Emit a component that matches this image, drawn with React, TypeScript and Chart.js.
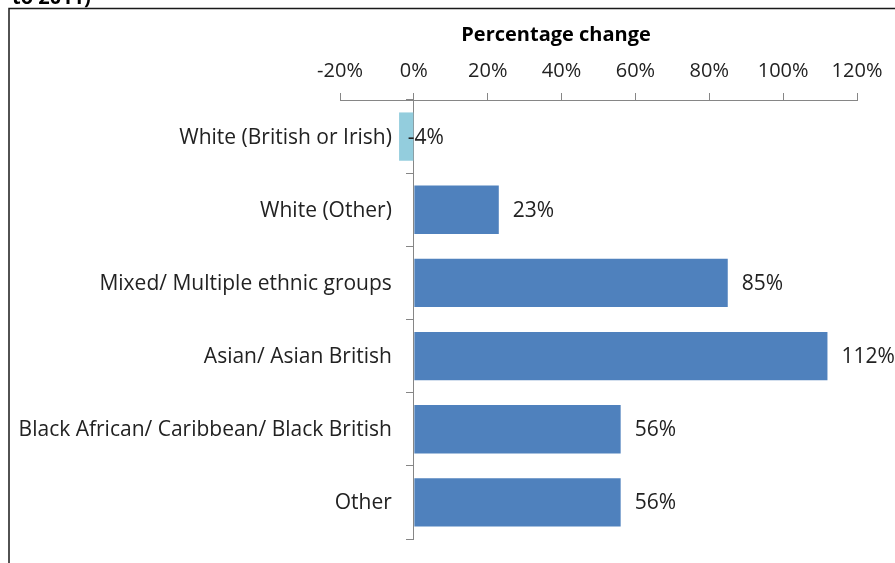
import React, { useEffect, useRef } from "react";
import { Chart, registerables } from "chart.js";

Chart.register(...registerables);

const categories = [
  "White (British or Irish)",
  "White (Other)",
  "Mixed/ Multiple ethnic groups",
  "Asian/ Asian British",
  "Black African/ Caribbean/ Black British",
  "Other",
];
const values = [-4, 23, 85, 112, 56, 56];
const barColors = ["#93CDDD", "#4F81BD", "#4F81BD", "#4F81BD", "#4F81BD", "#4F81BD"];
const axisTitle = "Percentage change";
const headerFragment = "to 2011)";

const FONT = "'Open Sans', 'Liberation Sans', sans-serif";
const AXIS_GRAY = "#868686";
const TEXT = "#222";

const framePlugin = {
  id: "frame",
  beforeDraw(chart: any) {
    const ctx = chart.ctx;
    ctx.save();
    ctx.fillStyle = "#fff";
    ctx.fillRect(0, 0, chart.width, chart.height);
    ctx.strokeStyle = "#1a1a1a";
    ctx.lineWidth = 1.5;
    ctx.beginPath();
    ctx.moveTo(9, chart.height);
    ctx.lineTo(9, 8.5);
    ctx.lineTo(chart.width, 8.5);
    ctx.stroke();
    ctx.fillStyle = "#000";
    ctx.font = `bold 20px ${FONT}`;
    ctx.textAlign = "left";
    ctx.textBaseline = "alphabetic";
    ctx.fillText(headerFragment, 12, 4);
    ctx.restore();
  },
};

const labelPlugin = {
  id: "barLabels",
  afterDatasetsDraw(chart: any) {
    const ctx = chart.ctx;
    const meta = chart.getDatasetMeta(0);
    const xs = chart.scales.x;
    const ys = chart.scales.y;
    ctx.save();
    ctx.fillStyle = TEXT;
    ctx.textBaseline = "middle";
    // bar value labels
    ctx.font = `21px ${FONT}`;
    ctx.textAlign = "left";
    meta.data.forEach((bar: any, i: number) => {
      const v = values[i];
      const x = v >= 0 ? bar.x + 14 : xs.getPixelForValue(0) - 6;
      ctx.fillText(`${v}%`, x, bar.y + 1);
    });
    // category labels, left of the zero axis
    ctx.textAlign = "right";
    const x0 = xs.getPixelForValue(0);
    categories.forEach((c, i) => {
      ctx.fillText(c, x0 - 22, ys.getPixelForValue(i) + 1);
    });
    // axis title (offset left of the axis centre, as in the original)
    ctx.font = `bold 20px ${FONT}`;
    ctx.fillStyle = "#000";
    ctx.textAlign = "center";
    ctx.fillText(axisTitle, xs.getPixelForValue(38.5), 35);
    ctx.restore();
  },
};

export default function App() {
  const ref = useRef<HTMLCanvasElement | null>(null);
  useEffect(() => {
    if (!ref.current) return;
    const chart = new Chart(ref.current, {
      type: "bar",
      data: {
        labels: categories,
        datasets: [
          {
            data: values,
            backgroundColor: barColors,
            borderWidth: 0,
            categoryPercentage: 1,
            barPercentage: 0.66,
          },
        ],
      },
      options: {
        indexAxis: "y",
        animation: false,
        responsive: false,
        devicePixelRatio: 1,
        layout: { padding: { left: 340, right: 38, top: 24, bottom: 24 } },
        plugins: {
          legend: { display: false },
          tooltip: { enabled: false },
        },
        scales: {
          x: {
            position: "top",
            min: -20,
            max: 120,
            ticks: {
              stepSize: 20,
              callback: (v: any) => `${v}%`,
              font: { family: FONT, size: 20 },
              color: TEXT,
              padding: 10,
              maxRotation: 0,
            },
            grid: {
              drawOnChartArea: false,
              drawTicks: true,
              tickLength: 7,
              color: AXIS_GRAY,
            },
            border: { display: true, color: AXIS_GRAY },
            title: {
              display: true,
              text: axisTitle,
              font: { family: FONT, size: 20, weight: "bold" },
              color: "rgba(0,0,0,0)",
              padding: { top: 0, bottom: 1 },
            },
          },
          y: {
            position: { x: 0 } as any,
            ticks: { display: false },
            grid: {
              drawOnChartArea: false,
              drawTicks: true,
              tickLength: 7,
              offset: true,
              color: AXIS_GRAY,
            },
            border: { display: true, color: AXIS_GRAY },
          },
        },
      },
      plugins: [framePlugin, labelPlugin],
    } as any);
    return () => chart.destroy();
  }, []);
  return (
    <div style={{ position: "absolute", left: 0, top: 0, width: 895, height: 563 }}>
      <canvas ref={ref} width={895} height={563} style={{ display: "block" }} />
    </div>
  );
}
